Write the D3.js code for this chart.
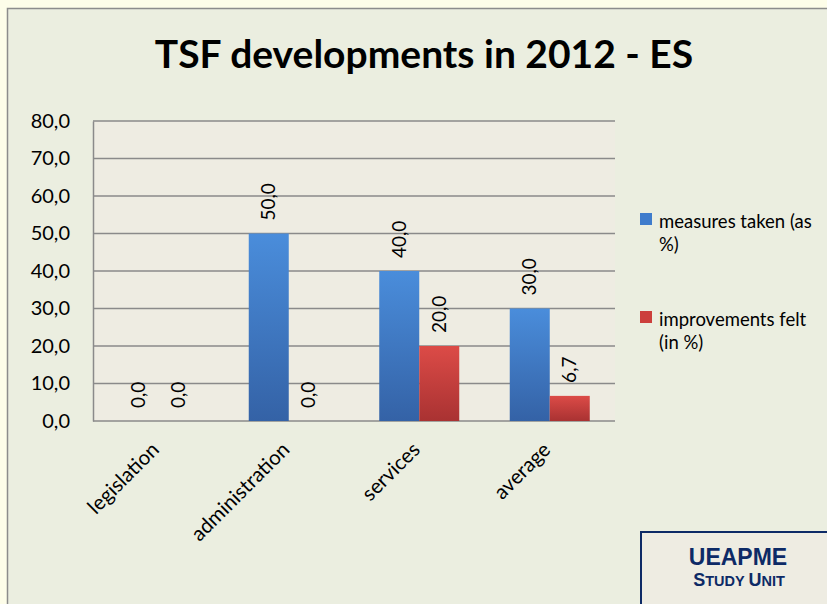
<!DOCTYPE html>
<html>
<head>
<meta charset="utf-8">
<script src="https://cdn.jsdelivr.net/npm/d3@7"></script>
<style>
  html, body { margin: 0; padding: 0; background: #fdfde9; }
  svg { display: block; }
</style>
</head>
<body>
<div id="chart"></div>
<script>
// chart data
const categories = ["legislation", "administration", "services", "average"];
const seriesNames = ["measures taken (as %)", "improvements felt (in %)"];
const measuresTaken = [0.0, 50.0, 40.0, 30.0];
const improvementsFelt = [0.0, 0.0, 20.0, 6.7];
const yTicks = [0, 10, 20, 30, 40, 50, 60, 70, 80];

const width = 827;
const height = 604;
const plot = { left: 93, right: 615, top: 121, bottom: 421 };

const fmt = d3.formatLocale({ decimal: ",", thousands: ".", grouping: [3], currency: ["", ""] }).format(".1f");
const font = "Lato, 'Open Sans', sans-serif";
const badgeFont = "'Liberation Sans', Arial, sans-serif";

const svg = d3.select("#chart")
    .append("svg")
    .attr("width", width)
    .attr("height", height);

// gradients for the bars
const defs = svg.append("defs");
const grads = [
    { id: "gBlue", top: "#4a8ddb", bottom: "#3462a6" },
    { id: "gRed", top: "#dc4b47", bottom: "#a93232" }
];
grads.forEach(g => {
    const lg = defs.append("linearGradient").attr("id", g.id)
        .attr("x1", 0).attr("y1", 0).attr("x2", 0).attr("y2", 1);
    lg.append("stop").attr("offset", "0%").attr("stop-color", g.top);
    lg.append("stop").attr("offset", "100%").attr("stop-color", g.bottom);
});
const colors = ["url(#gBlue)", "url(#gRed)"];
const legendColors = ["#3f7ccc", "#cc3f3c"];

// outer panel
svg.append("rect")
    .attr("x", 7.5).attr("y", 8.5)
    .attr("width", width).attr("height", height)
    .attr("fill", "#ebeee0")
    .attr("stroke", "#8c8c8c")
    .attr("stroke-width", 1.5);

// title
svg.append("text")
    .attr("x", 424)
    .attr("y", 68)
    .attr("text-anchor", "middle")
    .attr("font-family", font)
    .attr("font-weight", "bold")
    .attr("font-size", 39)
    .attr("fill", "#000")
    .text("TSF developments in 2012 - ES");

// scales
const x = d3.scaleBand().domain(categories).range([plot.left, plot.right]);
const xInner = d3.scaleBand().domain(seriesNames).range([-40, 40]);
const y = d3.scaleLinear().domain([0, 80]).range([plot.bottom, plot.top]);

// plot area
svg.append("rect")
    .attr("x", plot.left).attr("y", plot.top)
    .attr("width", plot.right - plot.left)
    .attr("height", plot.bottom - plot.top)
    .attr("fill", "#eeece2");

// gridlines
svg.append("g")
    .selectAll("line")
    .data(yTicks)
    .enter()
    .append("line")
    .attr("x1", plot.left).attr("x2", plot.right)
    .attr("y1", d => y(d)).attr("y2", d => y(d))
    .attr("stroke", "#8a8a8a")
    .attr("stroke-width", 1.5);

// y axis
const yAxis = svg.append("g")
    .attr("transform", `translate(${plot.left},0)`)
    .call(d3.axisLeft(y).tickValues(yTicks).tickFormat(fmt).tickSize(0).tickPadding(23));
yAxis.select(".domain").attr("stroke", "#8a8a8a").attr("stroke-width", 1.5);
yAxis.selectAll("text")
    .attr("font-family", font)
    .attr("font-size", 20)
    .attr("fill", "#000");

// bars
const rows = categories.map((c, i) => ({
    cat: c,
    vals: [measuresTaken[i], improvementsFelt[i]]
}));

const groups = svg.append("g")
    .selectAll("g")
    .data(rows)
    .enter()
    .append("g")
    .attr("transform", d => `translate(${x(d.cat) + x.bandwidth() / 2},0)`);

groups.selectAll("rect")
    .data(d => d.vals.map((v, j) => ({ v: v, s: seriesNames[j], j: j })))
    .enter()
    .append("rect")
    .attr("x", d => xInner(d.s))
    .attr("width", xInner.bandwidth())
    .attr("y", d => y(d.v))
    .attr("height", d => y(0) - y(d.v))
    .attr("fill", d => colors[d.j]);

// value labels, rotated
groups.selectAll("text")
    .data(d => d.vals.map((v, j) => ({ v: v, s: seriesNames[j] })))
    .enter()
    .append("text")
    .attr("transform", d => `translate(${xInner(d.s) + xInner.bandwidth() / 2},${y(d.v) - 13}) rotate(-90)`)
    .attr("dy", "0.35em")
    .attr("text-anchor", "start")
    .attr("font-family", font)
    .attr("font-size", 19)
    .attr("fill", "#000")
    .text(d => fmt(d.v));

// x axis labels
svg.append("g")
    .selectAll("text")
    .data(categories)
    .enter()
    .append("text")
    .attr("transform", d => `translate(${x(d) + x.bandwidth() / 2 + 2},${plot.bottom + 30}) rotate(-45)`)
    .attr("text-anchor", "end")
    .attr("font-family", font)
    .attr("font-size", 20.5)
    .attr("fill", "#000")
    .text(d => d);

// legend
const legendLines = [["measures taken (as", "%)"], ["improvements felt", "(in %)"]];
const legend = svg.append("g")
    .selectAll("g")
    .data(legendLines)
    .enter()
    .append("g")
    .attr("transform", (d, i) => `translate(640,${213 + i * 98})`);
legend.append("rect")
    .attr("width", 12).attr("height", 12)
    .attr("fill", (d, i) => legendColors[i]);
legend.append("text")
    .attr("font-family", font)
    .attr("font-size", 18.5)
    .attr("fill", "#000")
    .selectAll("tspan")
    .data(d => d)
    .enter()
    .append("tspan")
    .attr("x", 19)
    .attr("y", (d, i) => 15 + i * 23)
    .text(d => d);

// UEAPME badge
svg.append("rect")
    .attr("x", 641).attr("y", 532)
    .attr("width", 200).attr("height", 100)
    .attr("fill", "#eeece2")
    .attr("stroke", "#0d2a66")
    .attr("stroke-width", 2);
svg.append("text")
    .attr("x", 738).attr("y", 565)
    .attr("text-anchor", "middle")
    .attr("font-family", badgeFont)
    .attr("font-weight", "bold")
    .attr("font-size", 23)
    .attr("fill", "#0d2a66")
    .text("UEAPME");
const unit = svg.append("text")
    .attr("x", 739).attr("y", 586)
    .attr("text-anchor", "middle")
    .attr("font-family", badgeFont)
    .attr("font-weight", "bold")
    .attr("fill", "#0d2a66");
[["S", 18], ["TUDY ", 14.5], ["U", 18], ["NIT", 14.5]].forEach(p => {
    unit.append("tspan").attr("font-size", p[1]).text(p[0]);
});
</script>
</body>
</html>
